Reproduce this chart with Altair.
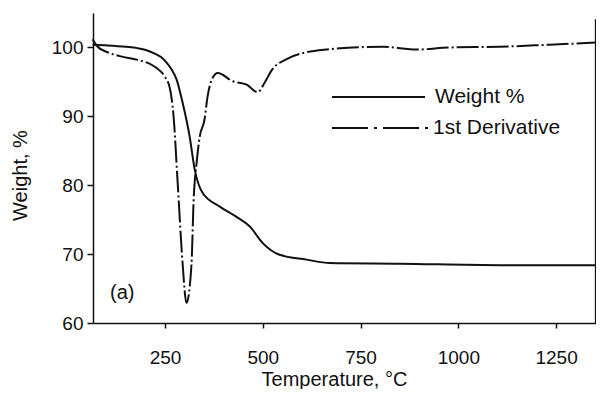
import altair as alt
import pandas as pd

# ---- data (Temperature in °C, values in %) ----
temp_weight = [65, 103, 150, 180, 203, 224, 240, 254, 267, 280, 295, 313, 326, 346, 390, 433, 467, 500, 543, 612, 671, 850, 1106, 1352]
weight_pct = [100.4, 100.3, 100.1, 99.9, 99.6, 99.1, 98.6, 97.8, 96.8, 95.3, 92.0, 87.1, 82.3, 78.9, 76.9, 75.4, 74.0, 71.6, 69.9, 69.2, 68.7, 68.6, 68.4, 68.4]

temp_deriv = [65, 78, 103, 137, 180, 224, 249, 262, 272, 282, 295, 305, 318, 323, 331, 339, 351, 359, 372,
              385, 423, 459, 487, 505, 523, 561, 612, 663, 807, 894, 978, 1106, 1234, 1352]
deriv_curve = [101.2, 100.1, 99.3, 98.7, 98.2, 97.2, 95.8, 94.2, 90.0, 80.8, 68.7, 62.9, 68.7, 77.5, 83.3, 87.1, 89.5, 92.9, 95.6,
               96.3, 95.1, 94.6, 93.5, 94.9, 96.7, 98.3, 99.3, 99.7, 100.1, 99.7, 100.0, 100.1, 100.4, 100.7]

legend_labels = ["Weight %", "1st Derivative"]
panel_label = "(a)"
x_ticks = [250, 500, 750, 1000, 1250]
y_ticks = [60, 65, 70, 75, 80, 85, 90, 95, 100, 105]

FONT = "Liberation Sans"
INK = "#111111"

df_w = pd.DataFrame({"T": temp_weight, "W": weight_pct})
df_d = pd.DataFrame({"T": temp_deriv, "W": deriv_curve})

x_scale = alt.Scale(domain=[66, 1352], nice=False, zero=False)
y_scale = alt.Scale(domain=[60, 105], nice=False, zero=False)

x_axis = alt.Axis(values=x_ticks, format="d", tickSize=5, labelPadding=20, labelFontSize=19,
                  titleFontSize=20, titleX=241, titleY=56, titleBaseline="middle",
                  labelFlush=False, labelOverlap=False)
y_axis = alt.Axis(values=y_ticks, tickSize=6, labelPadding=4, labelFontSize=19,
                  labelExpr="datum.value % 10 == 0 && datum.value < 105 ? datum.label : ''",
                  titleFontSize=20, titleX=-73, titleY=162, titleBaseline="middle",
                  labelOverlap=False)

x_enc = alt.X("T:Q", scale=x_scale, axis=x_axis, title="Temperature, °C")
y_enc = alt.Y("W:Q", scale=y_scale, axis=y_axis, title="Weight, %")

weight_line = alt.Chart(df_w).mark_line(color=INK, strokeWidth=2, interpolate="monotone").encode(x=x_enc, y=y_enc)
deriv_line = alt.Chart(df_d).mark_line(color=INK, strokeWidth=2, interpolate="monotone",
                                       strokeDash=[22, 3, 2, 3]).encode(x=x_enc, y=y_enc)

one = pd.DataFrame({"k": [0]})

# right frame line of the plot
right_border = alt.Chart(one).mark_rule(color=INK, strokeWidth=1.5).encode(
    x=alt.X(datum=1351), y=alt.Y(datum=104.1), y2=alt.Y2(datum=60))

leg_solid = alt.Chart(one).mark_rule(color=INK, strokeWidth=2).encode(
    x=alt.value(239), x2=alt.value(332), y=alt.value(84))
leg_dash = alt.Chart(one).mark_rule(color=INK, strokeWidth=2, strokeDash=[36, 6, 3, 6]).encode(
    x=alt.value(239), x2=alt.value(335), y=alt.value(115))

leg_text1 = alt.Chart(pd.DataFrame({"label": [legend_labels[0]]})).mark_text(
    font=FONT, fontSize=21, color=INK, align="left", baseline="middle").encode(
    text="label:N", x=alt.value(342), y=alt.value(84))
leg_text2 = alt.Chart(pd.DataFrame({"label": [legend_labels[1]]})).mark_text(
    font=FONT, fontSize=21, color=INK, align="left", baseline="middle").encode(
    text="label:N", x=alt.value(340), y=alt.value(115))
panel_text = alt.Chart(pd.DataFrame({"label": [panel_label]})).mark_text(
    font=FONT, fontSize=20, color=INK, align="left", baseline="middle").encode(
    text="label:N", x=alt.value(17), y=alt.value(280))

chart = alt.layer(
    weight_line, deriv_line, right_border, leg_solid, leg_dash, leg_text1, leg_text2, panel_text
).properties(
    width=503, height=310,
    autosize=alt.AutoSizeParams(type="none"),
    padding={"left": 85, "top": 5, "right": 0, "bottom": 66},
    background="white",
).configure_view(stroke=None).configure_axis(
    grid=False, labelFont=FONT, titleFont=FONT, labelColor=INK, titleColor=INK,
    domainColor=INK, tickColor=INK, domainWidth=1.5, tickWidth=1.5, titleFontWeight="normal",
)

chart.save("out.html", embed_options={"renderer": "svg", "actions": False})
